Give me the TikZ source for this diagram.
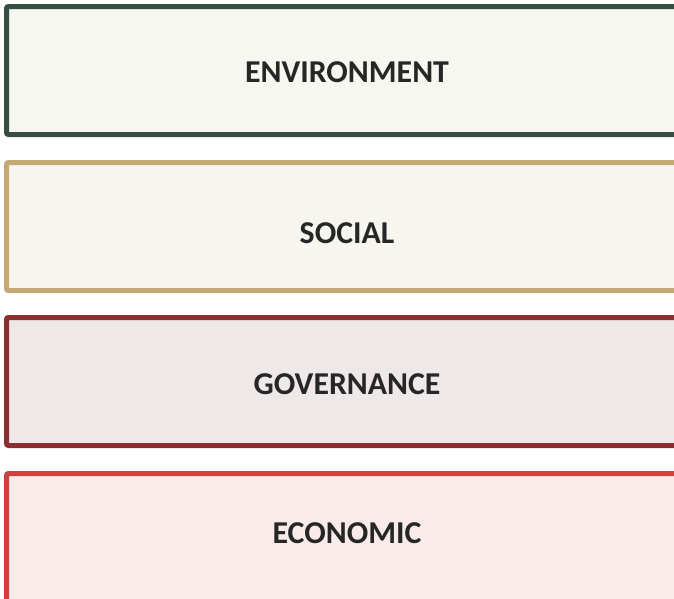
\documentclass[tikz,border=0pt]{standalone}
\usepackage{fontspec}
\setmainfont{Carlito}
\definecolor{envD}{HTML}{344E41}\definecolor{envF}{HTML}{F5F7F0}
\definecolor{socD}{HTML}{C4A875}\definecolor{socF}{HTML}{F7F5F0}
\definecolor{govD}{HTML}{8B2E31}\definecolor{govF}{HTML}{EFE8E8}
\definecolor{ecoD}{HTML}{D23F3F}\definecolor{ecoF}{HTML}{F9EBEA}
\definecolor{txt}{HTML}{262626}
\begin{document}
\begin{tikzpicture}[x=1pt,y=-1pt,
  band/.style={line width=5pt,rounded corners=2pt},
  lbl/.style={font=\fontsize{31.8}{38}\selectfont\bfseries,text=txt}]
\useasboundingbox (0,0) rectangle (674,598);
\begin{scope}
\clip (0,0) rectangle (674,598);
\draw[band,draw=envD,fill=envF] (6.5,6.5) rectangle (690,134.5);
\draw[band,draw=socD,fill=socF] (6.5,162.5) rectangle (690,290.5);
\draw[band,draw=govD,fill=govF] (6.5,317.5) rectangle (690,445.5);
\draw[band,draw=ecoD,fill=ecoF] (6.5,473.5) rectangle (690,602);
\end{scope}
\node[lbl] (env) at (347,72) {ENVIRONMENT};
\node[lbl] (soc) at (347,233) {SOCIAL};
\node[lbl] (gov) at (347,384) {GOVERNANCE};
\node[lbl] (eco) at (347,533) {ECONOMIC};
\end{tikzpicture}
\end{document}
